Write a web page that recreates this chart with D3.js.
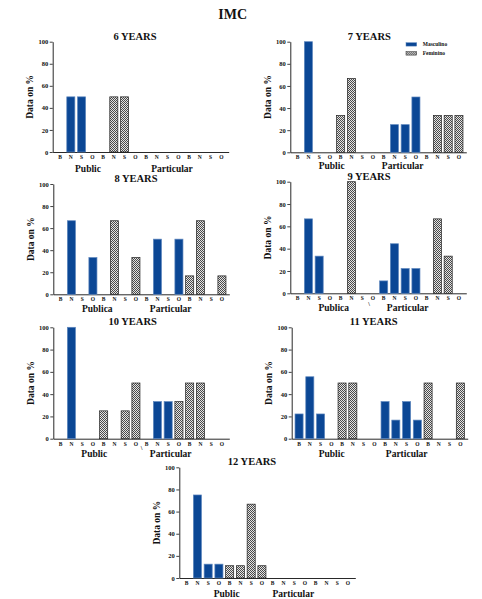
<!DOCTYPE html>
<html>
<head>
<meta charset="utf-8">
<script src="https://cdn.jsdelivr.net/npm/d3@7"></script>
<style>
  body { margin: 0; background: #fff; }
</style>
</head>
<body>
<div id="chart"></div>
<script>
// 16 slots per panel: Public (B N S O masc, B N S O fem), Particular (same)
const categories = ["B", "N", "S", "O"];
const yTicks = [0, 20, 40, 60, 80, 100];
const titles = ["6 YEARS", "7 YEARS", "8 YEARS", "9 YEARS", "10 YEARS", "11 YEARS", "12 YEARS"];
const groupNames = [
  ["Public", "Particular"],
  ["Public", "Particular"],
  ["Publica", "Particular"],
  ["Publica", "Particular"],
  ["Public", "Particular"],
  ["Public", "Particular"],
  ["Public", "Particular"],
];
const legendLabels = ["Masculino", "Feminino"];

const solid6 = [0, 50, 50, 0, 0, 0, 0, 0, 0, 0, 0, 0, 0, 0, 0, 0];
const dotted6 = [0, 0, 0, 0, 0, 50, 50, 0, 0, 0, 0, 0, 0, 0, 0, 0];
const solid7 = [0, 100, 0, 0, 0, 0, 0, 0, 0, 25, 25, 50, 0, 0, 0, 0];
const dotted7 = [0, 0, 0, 0, 33.3, 66.7, 0, 0, 0, 0, 0, 0, 0, 33.3, 33.3, 33.3];
const solid8 = [0, 66.7, 0, 33.3, 0, 0, 0, 0, 0, 50, 0, 50, 0, 0, 0, 0];
const dotted8 = [0, 0, 0, 0, 0, 66.7, 0, 33.3, 0, 0, 0, 0, 16.7, 66.7, 0, 16.7];
const solid9 = [0, 66.7, 33.3, 0, 0, 0, 0, 0, 11.1, 44.4, 22.2, 22.2, 0, 0, 0, 0];
const dotted9 = [0, 0, 0, 0, 0, 100, 0, 0, 0, 0, 0, 0, 0, 66.7, 33.3, 0];
const solid10 = [0, 100, 0, 0, 0, 0, 0, 0, 0, 33.3, 33.3, 0, 0, 0, 0, 0];
const dotted10 = [0, 0, 0, 0, 25, 0, 25, 50, 0, 0, 0, 33.3, 50, 50, 0, 0];
const solid11 = [22.2, 55.6, 22.2, 0, 0, 0, 0, 0, 33.3, 16.7, 33.3, 16.7, 0, 0, 0, 0];
const dotted11 = [0, 0, 0, 0, 50, 50, 0, 0, 0, 0, 0, 0, 50, 0, 0, 50];
const solid12 = [0, 75, 12.5, 12.5, 0, 0, 0, 0, 0, 0, 0, 0, 0, 0, 0, 0];
const dotted12 = [0, 0, 0, 0, 11.1, 11.1, 66.7, 11.1, 0, 0, 0, 0, 0, 0, 0, 0];

const solids = [solid6, solid7, solid8, solid9, solid10, solid11, solid12];
const dotteds = [dotted6, dotted7, dotted8, dotted9, dotted10, dotted11, dotted12];

// panel placement
const layout = [
  { x0: 52.7, top: 41.7, bot: 152, tdx: 82.3, pub: 35.3, part: 119.3, gdy: 20 },
  { x0: 290.3, top: 41.7, bot: 152.3, tdx: 79, pub: 41.4, part: 112.4, gdy: 17, legend: true },
  { x0: 53.3, top: 184, bot: 294.3, tdx: 82.7, pub: 44, part: 117.4, gdy: 18 },
  { x0: 290.3, top: 181.7, bot: 293.3, tdx: 78.7, pub: 43.4, part: 117.4, gdy: 18, mark: [78.7, 13] },
  { x0: 53.3, top: 327.3, bot: 438.7, tdx: 79.4, pub: 41, part: 117.4, gdy: 18, mark: [88.4, 11] },
  { x0: 291.7, top: 327.3, bot: 438.7, tdx: 82, pub: 40, part: 115, gdy: 18.5 },
  { x0: 179.3, top: 467.3, bot: 578, tdx: 72.7, pub: 47.4, part: 114, gdy: 19 },
];

const W = 482, H = 599, AXW = 176;
const BLUE = "#0b4795";
const FONT = '"Liberation Serif", "DejaVu Serif", serif';

const svg = d3.select("#chart").append("svg").attr("width", W).attr("height", H);
svg.append("rect").attr("width", W).attr("height", H).attr("fill", "#fff");

const pat = svg.append("defs").append("pattern")
  .attr("id", "dots").attr("patternUnits", "userSpaceOnUse")
  .attr("width", 2).attr("height", 2);
pat.append("rect").attr("width", 2).attr("height", 2).attr("fill", "#e4e4e4");
pat.append("rect").attr("width", 1).attr("height", 1).attr("fill", "#4a4a4a");
pat.append("rect").attr("x", 1).attr("y", 1).attr("width", 1).attr("height", 1).attr("fill", "#4a4a4a");

svg.append("text").attr("x", 232.7).attr("y", 19).attr("text-anchor", "middle")
  .style("font-size", "14px").text("IMC");

titles.forEach((title, p) => {
  const L = layout[p];
  const g = svg.append("g");

  const x = d3.scaleBand().domain(d3.range(16))
    .range([L.x0, L.x0 + AXW]).paddingInner(0.25).paddingOuter(0.31);
  const y = d3.scaleLinear().domain([0, 100]).range([L.bot, L.top]);

  const yAxis = g.append("g").attr("transform", `translate(${L.x0},0)`)
    .call(d3.axisLeft(y).tickValues(yTicks).tickSize(3).tickSizeOuter(0).tickPadding(1.5));
  yAxis.selectAll("text").style("font-size", "6.5px");

  const xAxis = g.append("g").attr("transform", `translate(0,${L.bot})`)
    .call(d3.axisBottom(x).tickSize(0).tickSizeOuter(0).tickPadding(3)
      .tickFormat((i) => categories[i % 4]));
  xAxis.selectAll("text").style("font-size", "5.5px");
  g.selectAll(".domain").attr("stroke", "#111").attr("stroke-width", 0.9);
  g.selectAll(".tick line").attr("stroke", "#111").attr("stroke-width", 0.8);

  const bars = (vals, kind) => g.selectAll(null)
    .data(vals.map((v, i) => ({ v, i })).filter((d) => d.v > 0))
    .enter().append("rect")
    .attr("x", (d) => x(d.i))
    .attr("width", x.bandwidth())
    .attr("y", (d) => y(d.v))
    .attr("height", (d) => y(0) - y(d.v))
    .attr("fill", kind === "solid" ? BLUE : "url(#dots)")
    .attr("stroke", kind === "solid" ? "#5d86bd" : "#222")
    .attr("stroke-width", 0.7);
  bars(solids[p], "solid");
  bars(dotteds[p], "dotted");

  g.append("text").attr("x", L.x0 + L.tdx).attr("y", L.top - 2)
    .attr("text-anchor", "middle").style("font-size", "10.5px").text(title);

  g.append("text")
    .attr("transform", `translate(${L.x0 - 22.5},${(L.top + L.bot) / 2}) rotate(-90)`)
    .attr("text-anchor", "middle").attr("dominant-baseline", "central")
    .style("font-size", "9.5px").text("Data on %");

  [L.pub, L.part].forEach((dx, k) => {
    g.append("text").attr("x", L.x0 + dx).attr("y", L.bot + L.gdy)
      .attr("text-anchor", "middle").style("font-size", "9.5px").text(groupNames[p][k]);
  });

  if (L.mark) {
    g.append("text").attr("x", L.x0 + L.mark[0]).attr("y", L.bot + L.mark[1])
      .attr("text-anchor", "middle").style("font-size", "6px").text("\\");
  }

  if (L.legend) {
    const lg = g.append("g").attr("transform", `translate(${L.x0 + 115.7},${L.top + 1})`);
    legendLabels.forEach((lab, k) => {
      lg.append("rect").attr("x", 0).attr("y", k * 9).attr("width", 10.7).attr("height", 3.4)
        .attr("fill", k === 0 ? BLUE : "url(#dots)")
        .attr("stroke", k === 0 ? "#5d86bd" : "#222").attr("stroke-width", 0.5);
      lg.append("text").attr("x", 16.7).attr("y", k * 9 + 3.7)
        .style("font-size", "5.5px").text(lab);
    });
  }
});

// same serif bold face everywhere, axis text included
svg.selectAll("text")
  .style("font-family", FONT)
  .style("font-weight", "bold")
  .attr("fill", "#111");
</script>
</body>
</html>
